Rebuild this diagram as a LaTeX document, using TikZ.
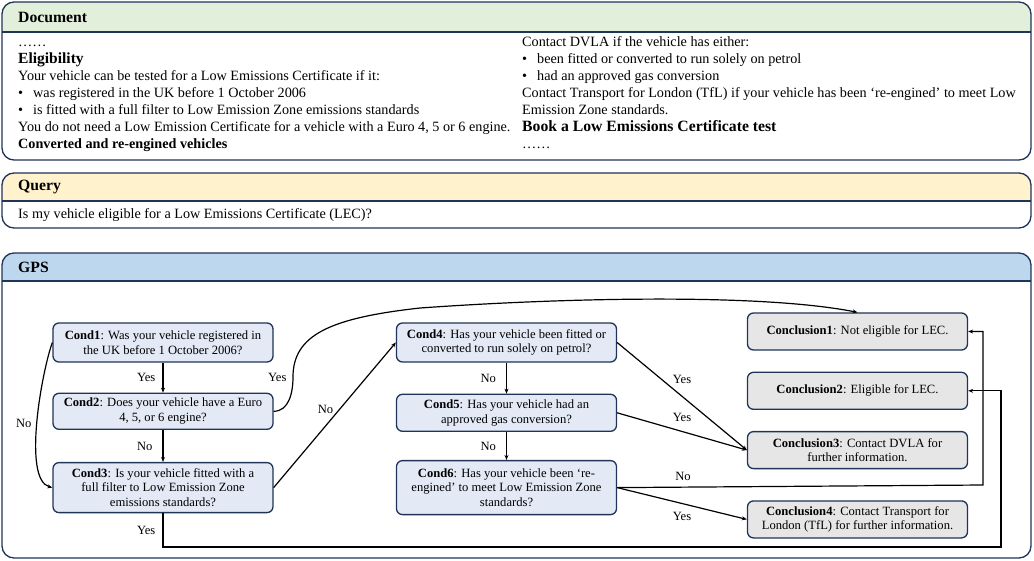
\documentclass[tikz,border=0pt]{standalone}
\usepackage{fontspec}
\setmainfont{Liberation Serif}
\definecolor{cNavy}{HTML}{1F3458}
\definecolor{cDoc}{HTML}{E2EFDA}
\definecolor{cQry}{HTML}{FFF2CC}
\definecolor{cGps}{HTML}{BDD7EE}
\definecolor{cCond}{HTML}{E3E9F5}
\definecolor{cConc}{HTML}{E7E6E6}
\usetikzlibrary{positioning,arrows.meta}

\begin{document}
\begin{tikzpicture}[x=1pt,y=1pt,
      cnd/.style={draw=cNavy,line width=1.3pt,fill=cCond,rounded corners=6pt,
                  minimum width=220pt,align=center,inner sep=2pt,
                  font=\fontsize{12.6}{14.8}\selectfont},
      cnc/.style={cnd,fill=cConc,minimum height=37pt},
      lbl/.style={font=\fontsize{12.6}{14}\selectfont,inner sep=1pt},
      hdr/.style={font=\fontsize{15.7}{17}\selectfont\bfseries,anchor=west,inner sep=0pt},
      body/.style={font=\fontsize{14.2}{17}\selectfont,align=left,anchor=north west,inner sep=0pt},
      arr/.style={-{Stealth[length=5pt,width=4pt]},line width=1.2pt}]
    \useasboundingbox (0,0) rectangle (1034,-560);
    % panels
    \foreach \ya/\yb/\yh/\col/\hd in {2/160/32/cDoc/Document,173/228/201/cQry/Query,253/558/281/cGps/GPS}{
      \begin{scope}
        \clip[rounded corners=12pt] (2,-\ya) rectangle (1031,-\yb);
        \fill[\col] (2,-\ya) rectangle (1031,-\yh);
      \end{scope}
      \draw[cNavy,line width=1.3pt] (2,-\yh) -- (1031,-\yh);
      \draw[cNavy,line width=1.3pt,rounded corners=12pt] (2,-\ya) rectangle (1031,-\yb);
      \node[hdr] (t\hd) at (18,{-(\ya+\yh)/2}) {\hd};
    }
    % document and query text
    \node[body] (docL) at (18,-34) {\strut……\\
      {\fontsize{15.5}{17}\selectfont\bfseries Eligibility}\\
      Your vehicle can be tested for a Low Emissions Certificate if it:\\
      \makebox[15pt][l]{•}was registered in the UK before 1 October 2006\\
      \makebox[15pt][l]{•}is fitted with a full filter to Low Emission Zone emissions standards\\
      You do not need a Low Emission Certificate for a vehicle with a Euro 4, 5 or 6 engine.\\
      \textbf{Converted and re-engined vehicles}};
    \node[body] (docR) at (522,-34) {\strut Contact DVLA if the vehicle has either:\\
      \makebox[15pt][l]{•}been fitted or converted to run solely on petrol\\
      \makebox[15pt][l]{•}had an approved gas conversion\\
      Contact Transport for London (TfL) if your vehicle has been ‘re-engined’ to meet Low\\
      Emission Zone standards.\\
      {\fontsize{15.7}{17}\selectfont\bfseries Book a Low Emissions Certificate test}\\
      ……};
    \node[body] (qtx) at (18,-206) {\strut Is my vehicle eligible for a Low Emissions Certificate (LEC)?};
    % conditions
    \node[cnd,minimum height=39pt] (c1) at (163,-342.5) {\textbf{Cond1}: Was your vehicle registered in\\the UK before 1 October 2006?};
    \node[cnd,minimum height=36pt,below=30pt of c1] (c2) {\textbf{Cond2}: Does your vehicle have a Euro\\4, 5, or 6 engine?};
    \node[cnd,minimum height=50pt,below=32pt of c2] (c3) {\textbf{Cond3}: Is your vehicle fitted with a\\full filter to Low Emission Zone\\emissions standards?};
    \node[cnd,minimum height=39pt] (c4) at (506.5,-342.5) {\textbf{Cond4}: Has your vehicle been fitted or\\converted to run solely on petrol?};
    \node[cnd,minimum height=37pt,below=31pt of c4] (c5) {\textbf{Cond5}: Has your vehicle had an\\approved gas conversion?};
    \node[cnd,minimum height=54pt,below=28pt of c5] (c6) {\textbf{Cond6}: Has your vehicle been ‘re-\\engined’ to meet Low Emission Zone\\standards?};
    % conclusions
    \node[cnc] (k1) at (857.5,-331.5) {\textbf{Conclusion1}: Not eligible for LEC.};
    \node[cnc,below=21pt of k1] (k2) {\textbf{Conclusion2}: Eligible for LEC.};
    \node[cnc,below=21pt of k2] (k3) {\textbf{Conclusion3}: Contact DVLA for\\further information.};
    \node[cnc,below=31pt of k3] (k4) {\textbf{Conclusion4}: Contact Transport for\\London (TfL) for further information.};
    % connectors
    \draw[arr] (c1) -- node[lbl,left=6pt]{Yes} (c2);
    \draw[arr] (c2) -- node[lbl,left=9pt]{No} (c3);
    \draw[arr,looseness=.55] (c1.west) to[out=-110,in=165] node[lbl,left=4pt]{No} (c3.west);
    \draw[arr] (c2.east) to[out=0,in=-90] node[lbl,pos=1,left=5pt]{Yes} (293,-377)
      .. controls (293,-335) and (330,-318) .. (420,-308)
      .. controls (560,-298) and (760,-293) .. (k1.north);
    \draw[arr] (c3.east) -- node[lbl,above left]{No} (c4.west);
    \draw[arr] (c3.south) |- node[lbl,pos=.25,left=6pt]{Yes} (1001,-547) |- (k2.east);
    \draw[arr] (c4) -- node[lbl,left=9pt]{No} (c5);
    \draw[arr] (c5) -- node[lbl,left=9pt]{No} (c6);
    \draw[arr] (c4.east) -- node[lbl,above=11pt]{Yes} (k3.west);
    \draw[arr] (c5.east) -- node[lbl,above=8pt]{Yes} (k3.west);
    \draw[arr] (c6.east) -- node[lbl,pos=.18,above=5pt]{No} (983,-485) |- (k1.east);
    \draw[arr] (c6.east) -- node[lbl,below=7pt]{Yes} (k4.west);
  \end{tikzpicture}
\end{document}
